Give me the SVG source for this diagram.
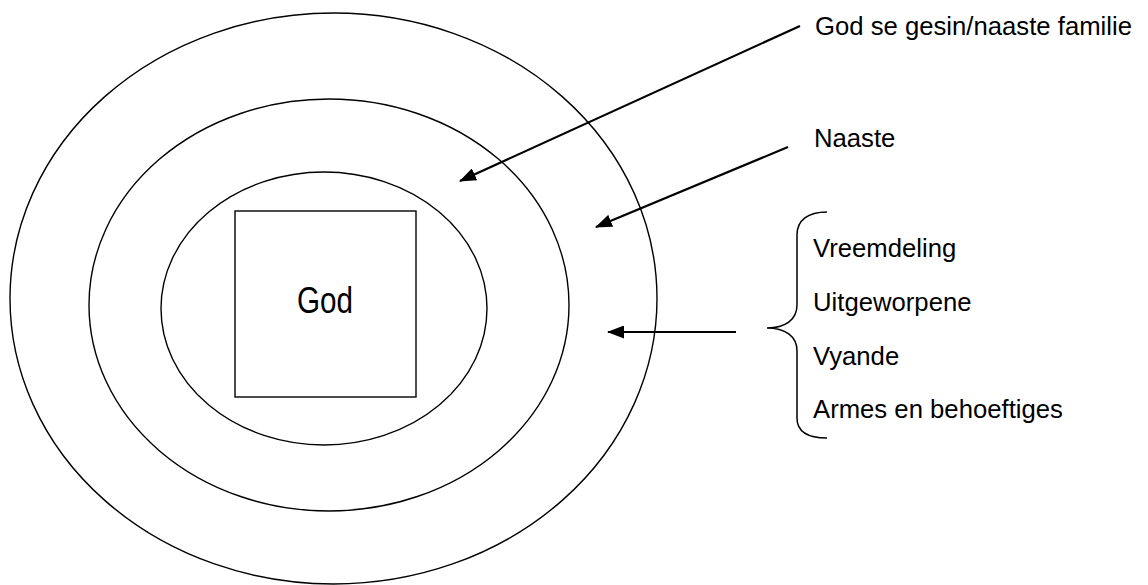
<svg xmlns="http://www.w3.org/2000/svg" width="1148" height="585" viewBox="0 0 1148 585">
  <style>
    .ring { fill: none; stroke: #000; stroke-width: 1.4; }
    .box { fill: none; stroke: #000; stroke-width: 1.4; }
    .conn { fill: none; stroke: #000; stroke-width: 2.2; }
    .brace { fill: none; stroke: #000; stroke-width: 1.5; }
    .lbl { font-family: "Liberation Sans", Arial, sans-serif; font-size: 25.7px; fill: #000; }
    .god { font-family: "Liberation Sans", Arial, sans-serif; font-size: 36px; fill: #000; }
  </style>
  <defs>
    <marker id="ah" viewBox="0 0 17 13" refX="16" refY="6.5" markerWidth="17" markerHeight="13" markerUnits="userSpaceOnUse" orient="auto">
      <path d="M0,0 L17,6.5 L0,13 Z" fill="#000"/>
    </marker>
  </defs>
  <rect width="1148" height="585" fill="#fff"/>
  <g id="outer-ring"><ellipse class="ring" cx="333.5" cy="298.5" rx="323.5" ry="285.5"/></g>
  <g id="middle-ring"><ellipse class="ring" cx="329" cy="305" rx="240" ry="206"/></g>
  <g id="inner-ring"><ellipse class="ring" cx="324" cy="308.5" rx="163" ry="136.5"/></g>
  <g id="god">
    <rect class="box" x="235" y="211" width="181" height="186"/>
    <text class="god" x="297" y="313" textLength="56" lengthAdjust="spacingAndGlyphs">God</text>
  </g>
  <g id="label-family"><text class="lbl" x="815" y="35">God se gesin/naaste familie</text></g>
  <g id="label-naaste"><text class="lbl" x="814" y="147">Naaste</text></g>
  <g id="label-list">
    <path class="brace" d="M827,212 C808,212 797,220 797,235 L797,305 C797,320 785,328 767,328 C785,328 797,336 797,351 L797,418 C797,432 808,438 827,438"/>
    <text class="lbl" x="813" y="257">Vreemdeling</text>
    <text class="lbl" x="813" y="311">Uitgeworpene</text>
    <text class="lbl" x="813" y="365">Vyande</text>
    <text class="lbl" x="813" y="418">Armes en behoeftiges</text>
  </g>
  <g id="connectors">
    <line class="conn" x1="800" y1="26" x2="460" y2="181" marker-end="url(#ah)"/>
    <line class="conn" x1="788" y1="147" x2="596" y2="227" marker-end="url(#ah)"/>
    <line class="conn" x1="736" y1="332" x2="608" y2="332" marker-end="url(#ah)"/>
  </g>
</svg>
